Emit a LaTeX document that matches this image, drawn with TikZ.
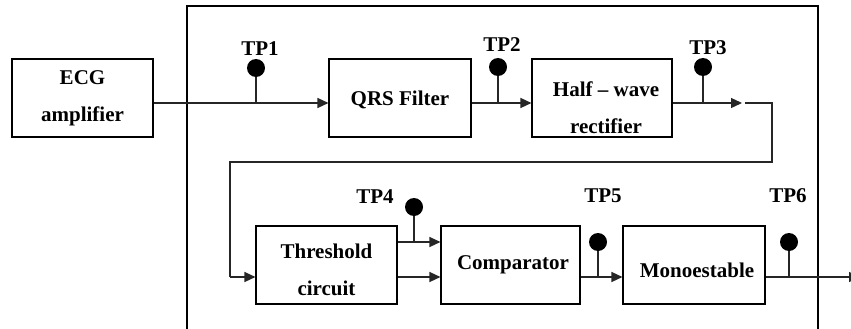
\documentclass[tikz,border=0pt]{standalone}
\usepackage{fontspec}
\setmainfont{Liberation Serif}
\usetikzlibrary{arrows.meta}
\begin{document}
\begin{tikzpicture}[x=1pt,y=-1pt,
  blk/.style={draw,line width=1.1pt,minimum height=78pt,inner sep=0pt},
  txt/.style={font=\fontsize{21}{37}\selectfont\bfseries,align=center,inner sep=0pt},
  tpdot/.style={circle,fill=black,minimum size=18pt,inner sep=0pt},
  wire/.style={line width=1.3pt,draw=black!85},
  arr/.style={wire,-{Triangle[length=11pt,width=10pt]}}]
\useasboundingbox (0,0) rectangle (851,329);
\clip (0,0) rectangle (851,329);
% frame
\draw[line width=1.1pt] (187,335) -- (187,6) -- (818,6) -- (818,335);
% blocks
\node[blk,minimum width=141pt] (ecg) at (82.5,98) {};
\node[blk,minimum width=142pt] (qrs) at (400,98) {};
\node[blk,minimum width=140pt] (hw) at (602,98) {};
\node[blk,minimum width=141pt] (thr) at (326.5,265) {};
\node[blk,minimum width=139pt] (cmp) at (510.5,265) {};
\node[blk,minimum width=142pt] (mono) at (694,265) {};
% texts
\node[txt] (tecg) at (82.5,98) {ECG\\amplifier};
\node[txt] (tqrs) at (400,100) {QRS Filter};
\node[txt] (thw) at (606,108) {Half -- wave\\rectifier};
\node[txt] (tthr) at (326.5,270) {Threshold\\circuit};
\node[txt] (tcmp) at (513,265) {Comparator};
\node[txt] (tmono) at (697,270) {Monoestable};
% test points
\node[tpdot] (d1) at (256,68) {};
\node[tpdot] (d2) at (498,67) {};
\node[tpdot] (d3) at (703,67) {};
\node[tpdot] (d4) at (414,207) {};
\node[tpdot] (d5) at (598,242) {};
\node[tpdot] (d6) at (789,242) {};
\node[txt] (l1) at (260,49) {TP1};
\node[txt] (l2) at (502,45) {TP2};
\node[txt] (l3) at (708,48) {TP3};
\node[txt] (l4) at (375,197) {TP4};
\node[txt] (l5) at (603,196) {TP5};
\node[txt] (l6) at (788,196) {TP6};
% junction coordinates
\coordinate (j1) at (256,103);
\coordinate (j2) at (498,103);
\coordinate (j3) at (703,103);
\coordinate (a3) at (742,103);
\coordinate (b3) at (745,103);
\coordinate (c1) at (772,103);
\coordinate (c2) at (772,162);
\coordinate (c3) at (230,162);
\coordinate (c4) at (230,277);
\coordinate (j4) at (414,242);
\coordinate (j5) at (598,277);
\coordinate (j6) at (789,277);
\coordinate (out) at (860,277);
% connectors
\draw[arr] ([yshift=-5pt]ecg.east) -- ([yshift=-5pt]qrs.west);
\draw[arr] ([yshift=-5pt]qrs.east) -- ([yshift=-5pt]hw.west);
\draw[arr] ([yshift=-5pt]hw.east) -- (a3);
\draw[wire] (b3) -- (c1) -- (c2) -- (c3) -- (c4);
\draw[arr] (c4) -- ([yshift=-12pt]thr.west);
\draw[arr] ([yshift=23pt]thr.east) -- ([yshift=23pt]cmp.west);
\draw[arr] ([yshift=-12pt]thr.east) -- ([yshift=-12pt]cmp.west);
\draw[arr] ([yshift=-12pt]cmp.east) -- ([yshift=-12pt]mono.west);
\draw[arr] ([yshift=-12pt]mono.east) -- (out);
% stems
\draw[wire] (d1) -- (j1);
\draw[wire] (d2) -- (j2);
\draw[wire] (d3) -- (j3);
\draw[wire] (d4) -- (j4);
\draw[wire] (d5) -- (j5);
\draw[wire] (d6) -- (j6);
\end{tikzpicture}
\end{document}
